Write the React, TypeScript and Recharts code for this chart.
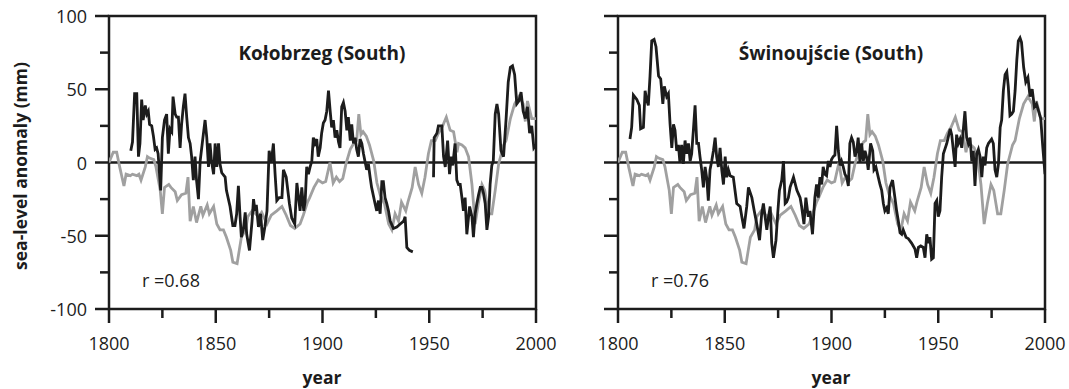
import { LineChart, Line, XAxis, YAxis, ReferenceLine, ReferenceArea } from "recharts";

const INK = "#1c1c1c";
const GRAY = "#a0a0a0";
const FONT = "'Open Sans', sans-serif";

const xTicks = [1800, 1825, 1850, 1875, 1900, 1925, 1950, 1975, 2000];
const yTicks = [-100, -75, -50, -25, 0, 25, 50, 75, 100];

// grey curve, same in both panels
const grayYears = [
  1800, 1802, 1803.6, 1805, 1807, 1808, 1810, 1811, 1813, 1814, 1815, 1817, 1818, 1819, 1821, 1822, 1824, 1825,
  1826, 1828, 1829, 1831, 1832, 1834, 1836, 1837, 1838, 1839.5, 1841, 1843, 1844, 1846, 1847, 1849, 1850.5, 1852,
  1853.6, 1855, 1857, 1858, 1860, 1861, 1862, 1864, 1865, 1867, 1868, 1870, 1871.5, 1874, 1876, 1878.6, 1881, 1883,
  1885, 1887, 1889.5, 1891, 1893, 1894, 1896, 1898, 1900, 1901.5, 1903.5, 1905, 1906.5, 1908, 1909.5, 1911, 1913,
  1915, 1916, 1917, 1918, 1919, 1920.5, 1922, 1924, 1925.5, 1927, 1929, 1931, 1932.5, 1934, 1935.6, 1937, 1939,
  1940, 1942, 1943.4, 1945, 1946.5, 1948, 1949.6, 1951, 1952.8, 1954.3, 1956, 1958, 1959.8, 1961.4, 1963, 1963.7,
  1965.3, 1966.8, 1968.4, 1970, 1971.5, 1973, 1974.7, 1976, 1977.8, 1979.3, 1980.9, 1982.5, 1984.8, 1986, 1988,
  1990, 1992, 1994, 1995, 1996, 1998, 2000,
];
const grayValues = [
  0, 7, 7, -3, -16, -8, -9, -8, -9, -8, -12, -3, 4, 3, 2, -3, -19, -35,
  -17, -15, -17, -20, -26, -22, -21, -10, -40, -30, -41, -30, -36, -29, -35, -30, -42, -46,
  -46, -51, -60, -68, -69, -60, -51, -46, -37, -33, -34, -37, -34, -42, -36, -33, -30, -36,
  -43, -45, -42, -36, -27, -24, -17, -12, -14, -13, 0, -14, -10, -13, -11, -1, 9,
  14, 15, 33, 19, 21, 18, 12, 1, -14, -22, -28, -42, -46, -35, -40, -27, -33,
  -27, -17, -3, -15, -21, -10, 6, 15, 15, 20, 24, 31, 22, 21, 7, 13,
  12, 10, 4, -15, -42, -28, -15, -19, -35, -35, -19, -1, 12, 15, 30,
  40, 45, 40, 28, 42, 30, 30,
];

const kolYears = [
  1810.2, 1811, 1812, 1813, 1813.8, 1814.5, 1815.3, 1816, 1817, 1817.7, 1818.4, 1819, 1820, 1820.8, 1821.6, 1822.3,
  1823, 1824.2, 1825, 1826, 1827, 1827.8, 1828.6, 1829.4, 1830, 1831, 1831.7, 1832.5, 1833.3, 1834, 1834.8, 1835.6,
  1836.4, 1837.2, 1838, 1838.7, 1839.5, 1840.3, 1841, 1841.9, 1842.7, 1844, 1845, 1845.8, 1846.6, 1847.3, 1848,
  1849, 1849.7, 1850.5, 1851.3, 1852, 1852.8, 1854.4, 1855, 1856.7, 1858, 1859, 1859.8, 1860.6, 1861.4, 1862, 1863,
  1863.8, 1864.5, 1865.8, 1867, 1867.7, 1868.4, 1869, 1870, 1871, 1872, 1873, 1874, 1875, 1876, 1877, 1877.8,
  1878.6, 1879.7, 1881, 1881.7, 1883, 1884.5, 1885.6, 1887, 1888, 1889.5, 1890.3, 1891.2, 1891.9, 1892.6, 1893.4,
  1894.2, 1895, 1895.7, 1896.5, 1897.3, 1898, 1898.9, 1899.6, 1900.4, 1901.2, 1902, 1902.8, 1903.6, 1904.3, 1905.1,
  1905.9, 1906.7, 1907.5, 1908.2, 1909, 1909.8, 1910.6, 1911.4, 1912.1, 1913, 1913.7, 1914.5, 1915.3, 1916, 1916.8,
  1917.6, 1918.4, 1919.2, 1920, 1920.7, 1921.5, 1922.3, 1923, 1924.6, 1925.4, 1926.2, 1927, 1927.8, 1928.5, 1929.3,
  1930.1, 1930.9, 1931.7, 1933.2, 1934.8, 1936.4, 1938, 1938.7, 1939.5, 1940.7, 1942.3, 1947, 1952, 1952.3, 1953.6,
  1954.3, 1955.9, 1956.7, 1957.5, 1958.6, 1959.5, 1960.3, 1961, 1962.1, 1962.9, 1963.7, 1964.5, 1965.3, 1966,
  1966.8, 1967.6, 1968.9, 1970, 1970.7, 1971.5, 1972.3, 1973.1, 1973.9, 1974.7, 1975.4, 1976.2, 1977, 1977.8,
  1978.5, 1979.3, 1980, 1980.9, 1981.7, 1982.5, 1983.6, 1984.8, 1986, 1987, 1988, 1989, 1990, 1991, 1992, 1993,
  1994, 1995, 1996, 1997, 1998, 1999, 2000,
];
const kolValues = [
  8, 14, 47, 47, 4, 13, 43, 29, 39, 33, 35, 26, 25, 18, 9, 10,
  6, -19, 17, 29, 33, 6, 23, 21, 45, 33, 31, 31, 10, 26, 38, 47,
  31, 17, 13, 4, -12, 4, -12, -25, 1, 17, 29, 17, -3, 13, 1,
  -8, 13, -3, 13, -1, -7, -10, -19, -30, -43, -43, -35, -16, -37, -51, -45,
  -34, -49, -60, -40, -25, -33, -29, -44, -35, -53, -44, -33, 8, 0, 13, -8,
  -26, -24, -24, -5, -10, -28, -38, -42, -14, -33, -17, -33, -26, -3, -8,
  -3, 1, 17, 13, 16, 4, 10, 20, 27, 29, 35, 49, 35, 24, 29,
  17, 22, 14, 10, 38, 41, 35, 22, 31, 15, 26, 13, 17, 9, 4,
  16, 13, 6, 0, -5, -1, -10, -17, -28, -33, -26, -35, -13, -13, -24,
  -28, -33, -40, -45, -44, -42, -40, -37, -58, -60, -61, null, -10, 17, 20,
  25, 25, 4, -3, 15, -8, 4, -2, 13, -12, -15, -15, -24, -33,
  -24, -49, -30, -37, -51, -35, -28, -22, -17, -17, -21, -28, -46, -37,
  -15, -2, 1, 33, 40, 33, 8, 4, 30, 55, 65, 66, 60, 40, 42, 48,
  35, 30, 38, 20, 25, 10, 12,
];

const swiYears = [
  1805.6, 1806.4, 1807.2, 1808.8, 1810, 1810.6, 1811.9, 1812.7, 1813.4, 1814.2, 1815, 1815.8, 1816.9, 1817.8, 1819,
  1820, 1821, 1821.7, 1822.8, 1823.6, 1824.4, 1825.2, 1826, 1826.7, 1827.5, 1828.3, 1829, 1829.8, 1830.6, 1831.4,
  1832.2, 1833, 1833.8, 1834.5, 1835.3, 1836.1, 1836.9, 1837.7, 1838.4, 1839.2, 1840, 1840.8, 1841.6, 1842.3, 1843.1,
  1843.9, 1844.7, 1845.5, 1846.2, 1847, 1847.8, 1848.6, 1849.4, 1850.2, 1850.9, 1851.7, 1852.5, 1854, 1855.6, 1857.2,
  1858, 1859, 1860.3, 1861.1, 1862.7, 1863.8, 1865, 1866.3, 1867.3, 1868.1, 1868.9, 1869.7, 1870.5, 1871.3, 1872,
  1872.8, 1874, 1874.8, 1875.6, 1876.7, 1877.5, 1878.3, 1879, 1879.8, 1880.6, 1882.2, 1883.8, 1885.3, 1886, 1887.1,
  1888, 1889.1, 1889.9, 1891.1, 1892.2, 1893, 1893.8, 1894.6, 1895.4, 1896.1, 1896.9, 1897.7, 1898.5, 1899.3, 1900,
  1900.8, 1901.6, 1902.4, 1903.2, 1904, 1904.7, 1905.5, 1906.3, 1907.1, 1907.9, 1908.6, 1909.4, 1910.2, 1911, 1911.8,
  1912.5, 1913.3, 1914.1, 1914.9, 1915.7, 1916.4, 1917.2, 1918.3, 1919.3, 1919.9, 1920.8, 1921.9, 1922.7, 1923.5,
  1924.3, 1925, 1925.8, 1926.6, 1927.4, 1928.6, 1929.7, 1930.5, 1931.3, 1932.1, 1932.9, 1933.6, 1934.9, 1936, 1937.5,
  1939.1, 1939.9, 1940.7, 1941.8, 1943, 1943.8, 1944.6, 1945.4, 1946.1, 1946.9, 1947.7, 1948.5, 1949.3, 1950, 1950.8,
  1951.6, 1952.4, 1954, 1954.8, 1955.6, 1956.3, 1957.1, 1957.9, 1958.6, 1959.4, 1960.2, 1961, 1961.7, 1962.5, 1963.3,
  1964.1, 1964.9, 1965.7, 1966.4, 1967.2, 1968, 1968.8, 1969.6, 1970.4, 1971.1, 1971.9, 1972.7, 1973.5, 1975, 1975.8,
  1976.6, 1977.4, 1978.2, 1979, 1979.7, 1980.5, 1981.3, 1982.1, 1982.8, 1983.6, 1984.4, 1985.2, 1986, 1986.8, 1987.5,
  1988.3, 1989, 1990, 1991, 1992, 1993, 1994, 1995, 1996, 1997, 1998, 1999, 2000,
];
const swiValues = [
  16, 24, 46, 43, 39, 23, 24, 49, 43, 39, 59, 83, 84, 79, 59,
  57, 40, 52, 45, 47, 26, 10, 26, 22, 8, 12, 0, 12, -1, 15,
  6, 13, 1, 6, 22, 39, 13, 13, 4, -5, -17, -3, -11, -26, -5,
  1, 8, 17, 4, -3, 10, -5, -15, 4, -10, -5, -9, -10, -28, -30,
  -37, -45, -30, -17, -24, -33, -42, -53, -35, -28, -37, -46, -37, -30, -55,
  -65, -53, -35, -19, -12, 1, -28, -27, -24, -17, -10, -19, -24, -30, -42,
  -24, -37, -33, -49, -24, -15, -24, -10, -15, -3, -8, -9, 1, -3, 2,
  4, 5, 25, 8, -2, 1, -3, -8, -10, -16, 13, 17, 14, 4, 8,
  17, 0, 13, 1, 8, 4, -5, 13, 8, -5, -3, -10, -15, -19,
  -28, -33, -31, -35, -17, -12, -24, -33, -40, -48, -49, -46, -51, -52, -55,
  -59, -65, -58, -57, -58, -65, -49, -55, -51, -66, -65, -28, -26, -37, -33,
  -10, 6, 13, 18, 23, 19, 8, -3, 19, 13, 16, 10, 22, 35, 17,
  13, 17, 1, 8, -16, 6, 9, 4, -10, 4, -2, 10, 13, 16, 13,
  -5, -10, -1, 24, 29, 49, 60, 62, 52, 32, 33, 35, 49, 70, 83,
  85, 82, 65, 55, 58, 45, 50, 38, 40, 35, 30, 10, -8,
];

type Point = { year: number; value: number | null };

const toPoints = (years: number[], values: (number | null)[]): Point[] =>
  years.map((year, i) => ({ year, value: values[i] }));

const grayData = toPoints(grayYears, grayValues);
const kolData = toPoints(kolYears, kolValues);
const swiData = toPoints(swiYears, swiValues);

const XTick = ({ x, y, payload }: any) => {
  const major = payload.value % 50 === 0;
  return (
    <g>
      <line x1={x} y1={y} x2={x} y2={y + (major ? 14 : 9)} stroke={INK} strokeWidth={2.5} />
      {major && (
        <text x={x} y={y + 34} textAnchor="middle" dominantBaseline="central" fontSize={18} fontFamily={FONT} fill={INK}>
          {payload.value}
        </text>
      )}
    </g>
  );
};

const makeYTick = (showLabels: boolean) => ({ x, y, payload }: any) => {
  const major = payload.value % 50 === 0;
  return (
    <g>
      <line x1={x} y1={y} x2={x - (major ? 14 : 9)} y2={y} stroke={INK} strokeWidth={2.5} />
      {major && showLabels && (
        <text x={x - 22} y={y} textAnchor="end" dominantBaseline="central" fontSize={18} fontFamily={FONT} fill={INK}>
          {payload.value}
        </text>
      )}
    </g>
  );
};

type PanelProps = {
  left: number;
  title: string;
  r: string;
  data: Point[];
  showYLabels: boolean;
};

const textStyle = { position: "absolute" as const, fontFamily: FONT, fontSize: 18, color: INK, whiteSpace: "nowrap" as const };

function Panel({ left, title, r, data, showYLabels }: PanelProps) {
  return (
    <div style={{ position: "absolute", left, top: 0, width: 560, height: 389 }}>
      <LineChart width={560} height={389} margin={{ top: 16, right: 24, left: 0, bottom: 30 }}>
        <XAxis
          dataKey="year"
          type="number"
          domain={[1800, 2000]}
          ticks={xTicks}
          interval={0}
          allowDataOverflow
          height={50}
          tickSize={0}
          tickMargin={0}
          axisLine={false}
          tickLine={false}
          tick={<XTick />}
        />
        <YAxis
          type="number"
          domain={[-100, 100]}
          ticks={yTicks}
          interval={0}
          allowDataOverflow
          width={109}
          tickSize={0}
          tickMargin={0}
          axisLine={false}
          tickLine={false}
          tick={makeYTick(showYLabels)}
        />
        <ReferenceArea x1={1800} x2={2000} y1={-100} y2={100} fill="none" stroke={INK} strokeWidth={2.5} />
        <ReferenceLine y={0} stroke={INK} strokeWidth={2.5} />
        <Line data={grayData} dataKey="value" type="linear" stroke={GRAY} strokeWidth={2.8} dot={false} isAnimationActive={false} />
        <Line data={data} dataKey="value" type="linear" stroke={INK} strokeWidth={2.8} dot={false} connectNulls={false} isAnimationActive={false} />
      </LineChart>
      <div style={{ ...textStyle, left: 322, top: 53, transform: "translate(-50%, -50%)", fontWeight: 700, fontSize: 19 }}>{title}</div>
      <div style={{ ...textStyle, left: 142, top: 280, transform: "translateY(-50%)" }}>{r}</div>
      <div style={{ ...textStyle, left: 322, top: 377, transform: "translate(-50%, -50%)", fontWeight: 700, fontSize: 17.5 }}>year</div>
    </div>
  );
}

export default function App() {
  return (
    <div style={{ position: "absolute", left: 0, top: 0, width: 1069, height: 389, background: "#fff", overflow: "hidden" }}>
      <Panel left={0} title="Kołobrzeg (South)" r="r =0.68" data={kolData} showYLabels />
      <Panel left={509} title="Świnoujście (South)" r="r =0.76" data={swiData} showYLabels={false} />
      <div
        style={{
          ...textStyle,
          left: 20,
          top: 166,
          transform: "translate(-50%, -50%) rotate(-90deg)",
          fontWeight: 700,
          fontSize: 17.5,
        }}
      >
        sea-level anomaly (mm)
      </div>
    </div>
  );
}
